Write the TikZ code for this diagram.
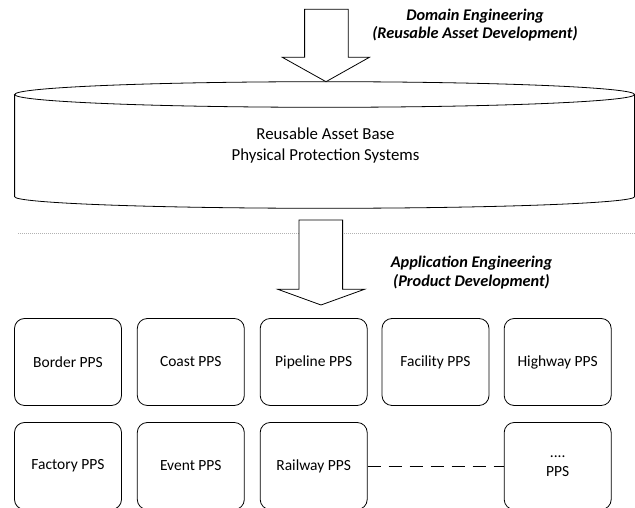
\documentclass[tikz,border=0pt]{standalone}
\usepackage{fontspec}
\setmainfont{Carlito}
\begin{document}
\begin{tikzpicture}[x=1pt,y=1pt,line width=0.8pt,
  ppsbox/.style={draw, rounded corners=10pt, minimum width=107pt, minimum height=87pt, inner sep=0pt, font=\fontsize{15.5}{19}\selectfont, align=center},
  blockarrow/.style={draw, fill=white, line join=miter},
  phase/.style={font=\fontsize{16.3}{18.3}\selectfont\bfseries\itshape, align=center},
  basetext/.style={font=\fontsize{16.8}{20.5}\selectfont, align=center}]
\useasboundingbox (0,0) rectangle (635,508);
% cylinder
\draw (14.6,413.5) -- (14.6,311.3) arc[start angle=180, end angle=360, x radius=310, y radius=11.6] -- (634.6,413.5);
\draw (324.6,413.5) ellipse [x radius=310, y radius=12.8];
\node[basetext] (base) at (325.5,362.5) {Reusable Asset Base\\Physical Protection Systems};
% top arrow
\draw[blockarrow] (304.6,498.7) -- (348.3,498.7) -- (348.3,450.7) -- (369.4,450.7) -- (326,426.3) -- (282.3,450.7) -- (304.6,450.7) -- cycle;
\node[phase] (domain) at (475,483) {Domain Engineering\\(Reusable Asset Development)};
% dotted separator
\coordinate (sepL) at (18,274.7);
\coordinate (sepR) at (635,274.7);
\draw[gray!60, line width=0.6pt, dash pattern=on 0.8pt off 1.2pt] (sepL) -- (sepR);
% second arrow
\draw[blockarrow] (299,288) -- (342.6,288) -- (342.6,218.7) -- (364.5,218.7) -- (321,203) -- (277.8,218.7) -- (299,218.7) -- cycle;
\node[phase] (app) at (471.5,235.5) {Application Engineering\\(Product Development)};
% boxes
\node[ppsbox] (border) at (68,146) {Border PPS};
\node[ppsbox] (coast) at (190.8,146) {Coast PPS};
\node[ppsbox] (pipeline) at (313.7,146) {Pipeline PPS};
\node[ppsbox] (facility) at (435.5,146) {Facility PPS};
\node[ppsbox] (highway) at (557.7,146) {Highway PPS};
\node[ppsbox] (factory) at (68,42) {Factory PPS};
\node[ppsbox] (event) at (190.8,42) {Event PPS};
\node[ppsbox] (railway) at (313.7,42) {Railway PPS};
\node[ppsbox] (more) at (557.7,42) {....\\PPS};
\draw[dash pattern=on 13pt off 8pt] (railway.east) -- (more.west);
\end{tikzpicture}
\end{document}
